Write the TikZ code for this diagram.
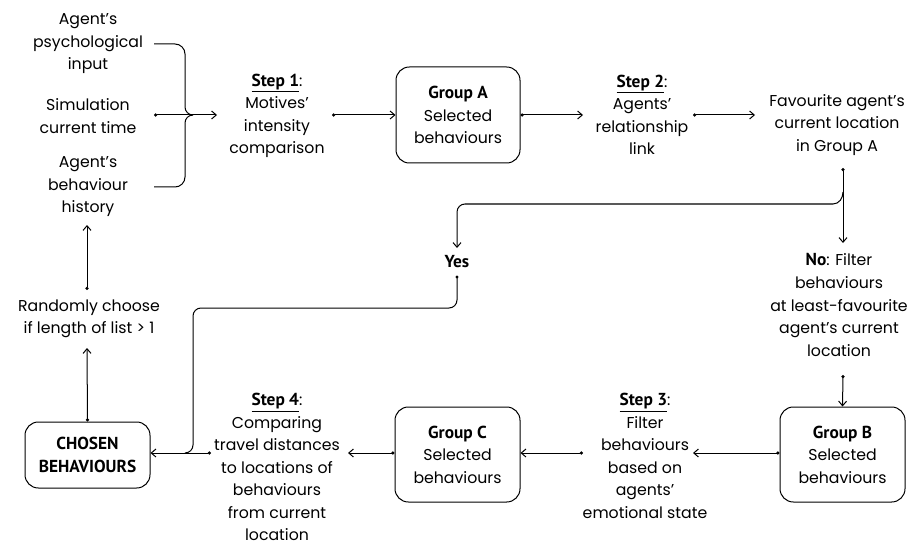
\documentclass[tikz,border=0pt]{standalone}
\usepackage{fontspec}
\usetikzlibrary{arrows.meta}
\newfontfamily\dinb{PT Sans}
\newfontfamily\gothic{Poppins}
\newcommand\hd[1]{{\dinb\bfseries\fontsize{13}{16.9}\selectfont #1}}
\newcommand\stp[1]{\hd{\underline{#1}}:}

\tikzset{
  txt/.style={align=center, inner sep=0pt, font=\gothic\fontsize{11.8}{16.9}\selectfont},
  box/.style={txt, draw, rounded corners=10pt, line width=0.75pt},
  flow/.style={line width=0.75pt, {Circle[length=2.4pt]}-{Straight Barb[length=3.5pt,width=6pt]}},
  arr/.style={line width=0.75pt, -{Straight Barb[length=3.5pt,width=6pt]}},
  link/.style={line width=0.75pt},
}

\begin{document}
\begin{tikzpicture}[x=0.75pt,y=0.75pt]
\useasboundingbox (0,0) rectangle (912,-545);

% inputs
\node[txt] (in1) at (88,-44) {Agent’s\\psychological\\input};
\node[txt] (in2) at (88,-116) {Simulation\\current time};
\node[txt] (in3) at (88,-187) {Agent’s\\behaviour\\history};
\coordinate (c1) at (154,-44);
\coordinate (c2) at (154,-115);
\coordinate (c3) at (154,-187);
\coordinate (jn) at (193,-115);

% steps and groups
\node[txt] (s1) at (277,-116) {\stp{Step 1}\\Motives’\\intensity\\comparison};
\node[box, minimum width=124pt*0.75, minimum height=96pt*0.75] (ga) at (458,-115)
  {\hd{Group A}\\Selected\\behaviours};
\node[txt] (s2) at (642,-115) {\stp{Step 2}\\Agents’\\relationship\\link};
\node[txt] (fav) at (837,-125) {Favourite agent’s\\current location\\in Group A};
\node[txt] (yes) at (457,-262) {\hd{Yes}};
\node[txt] (no) at (839,-305) {\hd{No}: Filter\\behaviours\\at least-favourite\\agent’s current\\location};
\node[box, minimum width=125pt*0.75, minimum height=95pt*0.75] (gb) at (842.5,-454.5)
  {\hd{Group B}\\Selected\\behaviours};
\node[txt] (s3) at (645,-456) {\stp{Step 3}\\Filter\\behaviours\\based on\\agents’\\emotional state};
\node[box, minimum width=125pt*0.75, minimum height=95pt*0.75] (gc) at (457.5,-454.5)
  {\hd{Group C}\\Selected\\behaviours};
\node[txt] (s4) at (277,-467) {\stp{Step 4}\\Comparing\\travel distances\\to locations of\\behaviours\\from current\\location};
\node[box, minimum width=125pt*0.75, minimum height=66pt*0.75] (ch) at (87.5,-455)
  {\hd{CHOSEN}\\\hd{BEHAVIOURS}};
\node[txt] (rnd) at (89,-319) {Randomly choose\\if length of list > 1};

% input brace
\draw[link] (c1) -- (175,-44) to[out=0,in=90] (185,-54) -- (185,-107) to[out=-90,in=180] (jn);
\draw[link] (c3) -- (175,-187) to[out=0,in=-90] (185,-177) -- (185,-123) to[out=90,in=180] (jn);
\draw[flow] (c2) -- (217,-115);

% top row
\draw[flow] (332,-115) -- (ga.west);
\draw[flow] (ga.east) -- (583,-115);
\draw[flow] (693,-115) -- (755,-115);

% decision
\draw[flow] (843,-168) -- (843,-243);
\draw[arr] (843,-192) to[out=-90,in=0] (833,-204) -- (465,-204)
  to[out=180,in=90] (457,-212) -- (457,-248);
\draw[flow] (843,-375) -- (gb.north);

% bottom row
\draw[flow] (gb.west |- 0,-453) -- (693,-453);
\draw[flow] (583,-453) -- (gc.east |- 0,-453);
\draw[flow] (gc.west |- 0,-453) -- (348,-453);
\draw[flow] (211,-453) -- (ch.east |- 0,-453);

% yes branch into chosen behaviours
\draw[link] (457,-277) -- (457,-300) to[out=-90,in=0] (449,-308) -- (201,-308)
  to[out=180,in=90] (193,-316) -- (193,-445) to[out=-90,in=0] (185,-453);
\fill (457,-277) circle (1.2pt);

% back to the inputs
\draw[flow] (ch.north) -- (87,-348);
\draw[flow] (87,-290) -- (87,-225);
\end{tikzpicture}
\end{document}
